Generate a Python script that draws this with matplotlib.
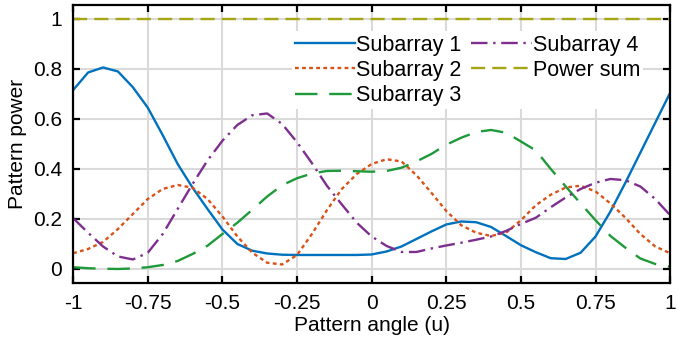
import numpy as np
import matplotlib
matplotlib.use('Agg')
import matplotlib.pyplot as plt

plt.rcParams['font.family'] = ['Liberation Sans', 'DejaVu Sans']
plt.rcParams['axes.unicode_minus'] = False

# values (pattern angle u, step 0.05)
u = [-1, -0.95, -0.9, -0.85, -0.8, -0.75, -0.7, -0.65, -0.6, -0.55, -0.5, -0.45,
     -0.4, -0.35, -0.3, -0.25, -0.2, -0.15, -0.1, -0.05, 0, 0.05, 0.1, 0.15, 0.2,
     0.25, 0.3, 0.35, 0.4, 0.45, 0.5, 0.55, 0.6, 0.65, 0.7, 0.75, 0.8, 0.85, 0.9,
     0.95, 1]
p_sub1 = [0.716, 0.786, 0.806, 0.79, 0.727, 0.645, 0.535, 0.42, 0.325, 0.24, 0.158,
          0.10, 0.073, 0.062, 0.057, 0.056, 0.056, 0.056, 0.056, 0.056, 0.058, 0.07,
          0.09, 0.12, 0.15, 0.178, 0.19, 0.187, 0.168, 0.132, 0.095, 0.067, 0.043,
          0.04, 0.065, 0.13, 0.23, 0.345, 0.465, 0.585, 0.705]
p_sub2 = [0.063, 0.08, 0.108, 0.16, 0.22, 0.28, 0.32, 0.336, 0.325, 0.28, 0.21, 0.13,
          0.065, 0.025, 0.018, 0.056, 0.14, 0.235, 0.32, 0.38, 0.42, 0.439, 0.43, 0.375,
          0.305, 0.232, 0.175, 0.145, 0.132, 0.145, 0.195, 0.255, 0.297, 0.326, 0.333,
          0.31, 0.262, 0.205, 0.14, 0.09, 0.063]
p_sub3 = [0.007, 0.003, 0.001, 0.0, 0.002, 0.007, 0.016, 0.032, 0.06, 0.093, 0.14,
          0.185, 0.237, 0.29, 0.335, 0.363, 0.382, 0.392, 0.393, 0.391, 0.389, 0.392,
          0.405, 0.43, 0.46, 0.497, 0.525, 0.548, 0.556, 0.545, 0.51, 0.474, 0.40,
          0.33, 0.262, 0.195, 0.132, 0.085, 0.042, 0.02, 0.009]
p_sub4 = [0.203, 0.145, 0.09, 0.05, 0.038, 0.065, 0.14, 0.24, 0.34, 0.434, 0.513,
          0.576, 0.615, 0.622, 0.58, 0.507, 0.423, 0.333, 0.258, 0.185, 0.13, 0.092,
          0.068, 0.068, 0.082, 0.094, 0.105, 0.117, 0.13, 0.152, 0.18, 0.205, 0.247,
          0.286, 0.32, 0.345, 0.36, 0.355, 0.33, 0.28, 0.215]
u_sum = [-1, 1]
p_sum = [1, 1]

xticks = [-1, -0.75, -0.5, -0.25, 0, 0.25, 0.5, 0.75, 1]
xticklabels = ['-1', '-0.75', '-0.5', '-0.25', '0', '0.25', '0.5', '0.75', '1']
yticks = [0, 0.2, 0.4, 0.6, 0.8, 1]
yticklabels = ['0', '0.2', '0.4', '0.6', '0.8', '1']

fig = plt.figure(figsize=(6.97, 3.43), dpi=100)
ax = fig.add_axes([0.105, 0.175, 0.8565, 0.8105])

lw = 1.7
ax.plot(u, p_sub1, color='#0072BD', lw=lw, label='Subarray 1')
ax.plot(u, p_sub2, color='#D95319', lw=lw, dashes=(1.6, 1.4), label='Subarray 2')
ax.plot(u, p_sub3, color='#1E9A3A', lw=lw, dashes=(9.5, 5), label='Subarray 3')
ax.plot(u, p_sub4, color='#7E2F8E', lw=lw, dashes=(7, 2.4, 1, 2.4), label='Subarray 4')
ax.plot(u_sum, p_sum, color='#A6A615', lw=lw, dashes=(6, 3), label='Power sum')

ax.set_xlim(-1, 1)
ax.set_ylim(-0.056, 1.056)
ax.set_xticks(xticks)
ax.set_xticklabels(xticklabels)
ax.set_yticks(yticks)
ax.set_yticklabels(yticklabels)
ax.grid(True, color='#dadada', lw=1.5)
ax.set_axisbelow(True)
ax.tick_params(direction='in', length=5, width=1.6, top=True, right=True,
               labelsize=15)
ax.tick_params(axis='x', pad=8)
ax.tick_params(axis='y', pad=8)
for s in ax.spines.values():
    s.set_linewidth(1.6)
ax.set_xlabel('Pattern angle (u)', fontsize=15, labelpad=2)
ax.set_ylabel('Pattern power', fontsize=15, labelpad=4)

leg = ax.legend(ncol=2, loc='upper right', bbox_to_anchor=(0.955, 0.905),
                frameon=True, fontsize=15.5, handlelength=2.8, handletextpad=0.05,
                columnspacing=0.45, labelspacing=0.2, borderpad=0.15,
                borderaxespad=0)
leg.get_frame().set_edgecolor('none')
leg.get_frame().set_facecolor('white')
leg.get_frame().set_alpha(1)
leg.get_frame().set_boxstyle('square', pad=0)

fig.savefig('out.png', dpi=100)
